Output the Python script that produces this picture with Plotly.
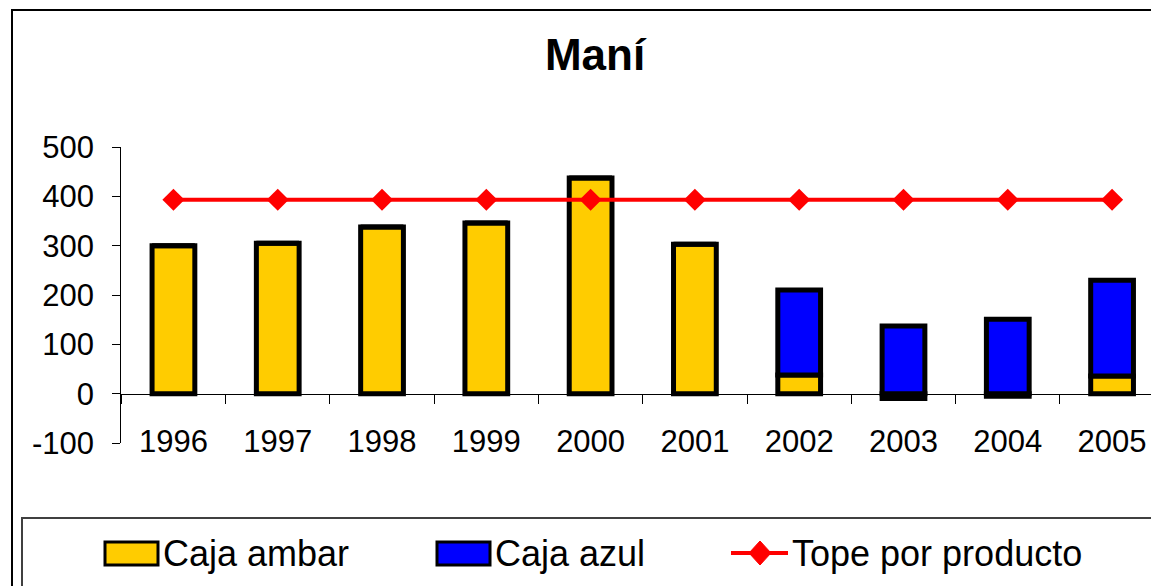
import plotly.graph_objects as go

years = ["1996", "1997", "1998", "1999", "2000", "2001", "2002", "2003", "2004", "2005"]
caja_ambar = [300, 305, 338, 346, 437, 303, 38, -10, -5, 36]
caja_azul = [0, 0, 0, 0, 0, 0, 172, 137, 151, 194]
tope = [393, 393, 393, 393, 393, 393, 393, 393, 393, 393]
y_ticks = [-100, 0, 100, 200, 300, 400, 500]
y_tick_labels = ["-100", "0", "100", "200", "300", "400", "500"]

OFF = 8  # page body margin
W, H = 1159 - OFF, 586 - OFF
FONT = "Liberation Sans, Arial, sans-serif"
AMBER = "#FFCC00"
BLUE = "#0000FF"
RED = "#FF0000"

def px(x):
    return (x - OFF) / W

def py(y):
    return 1 - (y - OFF) / H

fig = go.Figure()
fig.add_trace(go.Bar(x=years, y=caja_ambar, name="Caja ambar", width=0.41,
                     marker=dict(color=AMBER, line=dict(color="black", width=5)),
                     showlegend=False))
fig.add_trace(go.Bar(x=years, y=caja_azul, name="Caja azul", width=0.41,
                     marker=dict(color=BLUE, line=dict(color="black", width=5)),
                     showlegend=False))
fig.add_trace(go.Scatter(x=years, y=tope, name="Tope por producto", mode="lines+markers",
                         line=dict(color=RED, width=4),
                         marker=dict(symbol="diamond", size=17, color=RED),
                         showlegend=False))

shapes = []
# outer chart border
shapes.append(dict(type="rect", xref="paper", yref="paper",
                   x0=px(12), x1=px(1175), y0=py(600), y1=py(10),
                   line=dict(color="black", width=2), layer="below"))
# legend box
shapes.append(dict(type="rect", xref="paper", yref="paper",
                   x0=px(22), x1=px(1175), y0=py(600), y1=py(518),
                   line=dict(color="#404040", width=2), layer="below"))
# legend symbols
shapes.append(dict(type="rect", xref="paper", yref="paper",
                   x0=px(105), x1=px(158), y0=py(565), y1=py(542),
                   fillcolor=AMBER, line=dict(color="black", width=3)))
shapes.append(dict(type="rect", xref="paper", yref="paper",
                   x0=px(437), x1=px(490), y0=py(565), y1=py(542),
                   fillcolor=BLUE, line=dict(color="black", width=3)))
shapes.append(dict(type="line", xref="paper", yref="paper",
                   x0=px(731), x1=px(788), y0=py(553), y1=py(553),
                   line=dict(color=RED, width=4)))
cx, cy = 760, 553
shapes.append(dict(type="path", xref="paper", yref="paper",
                   path=f"M {px(cx-11)} {py(cy)} L {px(cx)} {py(cy-12)} L {px(cx+11)} {py(cy)} L {px(cx)} {py(cy+12)} Z",
                   fillcolor=RED, line=dict(color=RED, width=1)))

annotations = []
for x0, txt in [(161, "Caja ambar"), (493, "Caja azul"), (790, "Tope por producto")]:
    annotations.append(dict(x=px(x0), y=py(553), xref="paper", yref="paper",
                            text=txt, showarrow=False, xanchor="left", yanchor="middle",
                            font=dict(family=FONT, size=36, color="black")))

fig.update_layout(
    width=W, height=H,
    margin=dict(l=0, r=0, t=0, b=0, autoexpand=False),
    paper_bgcolor="white", plot_bgcolor="white",
    barmode="relative",
    title=dict(text="<b>Maní</b>", x=px(595), xanchor="center", y=py(55), yanchor="middle",
               font=dict(family=FONT, size=44, color="black")),
    xaxis=dict(domain=[px(121.3), 1], range=[-0.5, 9.45], type="category",
               anchor="free", position=py(394), automargin=False,
               showline=True, linecolor="black", linewidth=1,
               ticks="outside", ticklen=9, tickcolor="black", tickson="boundaries",
               showgrid=False, zeroline=False, ticklabelstandoff=20,
               tickfont=dict(family=FONT, size=31, color="black")),
    yaxis=dict(domain=[py(443), py(147)], range=[-100, 500],
               tickvals=y_ticks, ticktext=y_tick_labels, automargin=False,
               showline=True, linecolor="black", linewidth=1,
               ticks="outside", ticklen=8, tickcolor="black",
               showgrid=False, zeroline=False, ticklabelstandoff=12,
               tickfont=dict(family=FONT, size=31, color="black")),
    shapes=shapes, annotations=annotations,
    font=dict(family=FONT),
)

fig.write_html("out.html")
